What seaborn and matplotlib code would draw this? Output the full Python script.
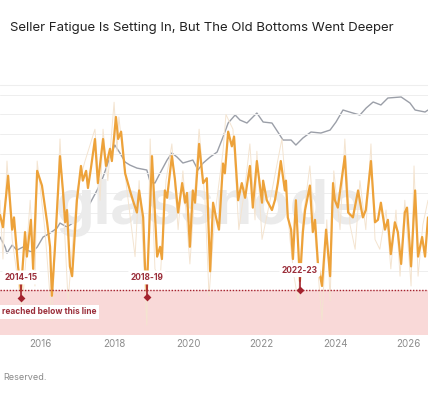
import numpy as np
import pandas as pd
import seaborn as sns
import matplotlib.pyplot as plt
from matplotlib.lines import Line2D

# smoothed oscillator (score 0-100), turning points
osc_t = [2014.89, 2014.97, 2015.11, 2015.22, 2015.27, 2015.38, 2015.46, 2015.57, 2015.62, 2015.73,
         2015.79, 2015.90, 2016.03, 2016.17, 2016.25, 2016.30, 2016.38, 2016.52, 2016.60, 2016.66,
         2016.71, 2016.79, 2016.85, 2016.93, 2016.98, 2017.09, 2017.14, 2017.23, 2017.28, 2017.36,
         2017.47, 2017.55, 2017.69, 2017.77, 2017.88, 2017.93, 2018.04, 2018.10, 2018.18, 2018.29,
         2018.42, 2018.50, 2018.61, 2018.67, 2018.78, 2018.83, 2018.88, 2019.02, 2019.16, 2019.24,
         2019.29, 2019.37, 2019.43, 2019.56, 2019.64, 2019.73, 2019.84, 2019.92, 2019.97, 2020.05,
         2020.13, 2020.19, 2020.30, 2020.41, 2020.51, 2020.60, 2020.68, 2020.76, 2020.84, 2020.95,
         2021.00, 2021.09, 2021.19, 2021.25, 2021.36, 2021.46, 2021.55, 2021.68, 2021.76, 2021.87,
         2022.01, 2022.04, 2022.14, 2022.28, 2022.36, 2022.44, 2022.52, 2022.63, 2022.66, 2022.71,
         2022.80, 2022.85, 2022.93, 2023.04, 2023.12, 2023.18, 2023.31, 2023.39, 2023.45, 2023.53,
         2023.64, 2023.75, 2023.86, 2023.94, 2023.99, 2024.07, 2024.26, 2024.35, 2024.48, 2024.62,
         2024.70, 2024.75, 2024.83, 2024.97, 2025.08, 2025.16, 2025.24, 2025.35, 2025.43, 2025.51,
         2025.62, 2025.70, 2025.79, 2025.89, 2025.95, 2026.06, 2026.17, 2026.25, 2026.36, 2026.44,
         2026.52]
osc_v = [49, 44, 65, 43, 48, 28, 18, 42, 32, 47,
         27, 67, 61, 46, 36, 16, 35, 73, 59, 46,
         51, 28, 24, 43, 55, 69, 63, 67, 60, 68,
         80, 62, 80, 69, 76, 71, 89, 80, 83, 66,
         59, 55, 50, 59, 48, 28, 18, 73, 32, 36,
         31, 59, 56, 73, 64, 50, 62, 54, 58, 36,
         59, 54, 78, 62, 64, 26, 54, 48, 43, 70,
         66, 83, 77, 81, 55, 62, 56, 69, 52, 71,
         54, 63, 55, 51, 55, 62, 71, 59, 63, 48,
         43, 31, 55, 22, 42, 51, 61, 42, 47, 29,
         20, 43, 24, 62, 55, 52, 73, 50, 48, 59,
         52, 48, 51, 71, 46, 47, 54, 43, 47, 33,
         46, 42, 29, 50, 52, 28, 59, 32, 40, 32,
         48]

# raw (unsmoothed) oscillator, faint spikes
raw_t = [2014.89, 2014.97, 2015.08, 2015.22, 2015.49, 2015.71, 2015.84, 2015.90, 2016.11, 2016.30,
         2016.52, 2016.74, 2016.98, 2017.20, 2017.47, 2017.61, 2017.69, 2017.82, 2017.99, 2018.07,
         2018.12, 2018.34, 2018.56, 2018.67, 2018.75, 2018.88, 2018.97, 2019.10, 2019.24, 2019.40,
         2019.56, 2019.73, 2019.86, 2020.05, 2020.30, 2020.46, 2020.57, 2020.73, 2020.95, 2021.03,
         2021.22, 2021.38, 2021.55, 2021.68, 2021.82, 2021.87, 2022.01, 2022.23, 2022.55, 2022.77,
         2022.88, 2022.99, 2023.12, 2023.31, 2023.48, 2023.64, 2023.77, 2023.86, 2023.96, 2024.13,
         2024.26, 2024.40, 2024.54, 2024.67, 2024.83, 2024.97, 2025.08, 2025.21, 2025.38, 2025.51,
         2025.65, 2025.76, 2025.89, 2026.06, 2026.14, 2026.25, 2026.38, 2026.52]
raw_v = [55, 31, 71, 39, 10, 55, 20, 71, 43, 6,
         80, 14, 59, 71, 84, 55, 84, 63, 95, 75,
         89, 59, 32, 63, 43, 4, 80, 27, 22, 63,
         78, 43, 67, 29, 84, 55, 16, 49, 75, 90,
         84, 43, 61, 78, 47, 75, 39, 55, 80, 39,
         24, 14, 47, 69, 35, 6, 47, 14, 67, 43,
         80, 45, 35, 63, 43, 78, 39, 35, 51, 27,
         51, 24, 55, 20, 69, 24, 45, 55]

# BTC price (log axis)
px_t = [2014.89, 2015.03, 2015.08, 2015.22, 2015.35, 2015.51, 2015.62, 2015.76, 2015.90, 2016.06,
        2016.25, 2016.44, 2016.52, 2016.71, 2016.98, 2017.15, 2017.34, 2017.53, 2017.69, 2017.88,
        2018.01, 2018.15, 2018.29, 2018.42, 2018.61, 2018.88, 2018.97, 2019.10, 2019.24, 2019.43,
        2019.56, 2019.70, 2019.86, 2020.13, 2020.27, 2020.41, 2020.60, 2020.79, 2020.95, 2021.09,
        2021.28, 2021.41, 2021.60, 2021.87, 2022.04, 2022.28, 2022.44, 2022.58, 2022.80, 2022.93,
        2023.12, 2023.34, 2023.61, 2023.86, 2024.02, 2024.21, 2024.48, 2024.67, 2024.84, 2025.03,
        2025.24, 2025.43, 2025.79, 2026.03, 2026.17, 2026.44, 2026.52]
px_v = [429, 283, 221, 308, 250, 283, 250, 230, 283, 429,
        506, 624, 767, 650, 868, 1162, 1759, 3015, 5170, 11860,
        19500, 14000, 9630, 8500, 7500, 6920, 4200, 4030, 6100, 10470,
        14000, 11860, 9250, 10470, 6920, 9250, 11860, 14590, 27170, 48570,
        67700, 55000, 48570, 73500, 50640, 48570, 33450, 24000, 24000, 19500,
        26070, 33450, 32080, 36300, 50640, 83300, 73500, 67700, 90500, 116200,
        102600, 137000, 143000, 111400, 83300, 76700, 83300]

bottom_labels = ["2014-15", "2018-19", "2022-23"]
bottom_t = [2015.46, 2018.88, 2023.04]
bottom_v = [15, 15.5, 18.4]
threshold = 18.4
year_ticks = [2016, 2018, 2020, 2022, 2024, 2026]

osc = pd.DataFrame({"t": osc_t, "v": osc_v})
raw = pd.DataFrame({"t": raw_t, "v": raw_v})
price = pd.DataFrame({"t": px_t, "p": px_v})

sns.set_style("white")
plt.rcParams["font.family"] = ["Inter", "DejaVu Sans"]

fig = plt.figure(figsize=(4.28, 4.0), dpi=100)
ax = fig.add_axes([0, 0.1625, 1, 0.6125])
ax2 = ax.twinx()
ax.set_zorder(ax2.get_zorder() + 1)
ax.patch.set_visible(False)

# price on the hidden log axis
sns.lineplot(data=price, x="t", y="p", ax=ax2, color="#9b9fa8", linewidth=1.0, estimator=None)
ax2.set_yscale("log")
ax2.set_ylim(7.4, 191000)
ax2.set_yticks([])
ax2.set_ylabel("")

# background band + gridlines
ax.axhspan(0, threshold, color="#f9d9d8", zorder=0, lw=0)
for g in [26, 34, 42, 50, 58, 66, 74, 82, 90, 98]:
    ax.axhline(g, color="#eeeeee", lw=0.7, zorder=0)
ax.text(2020.6, 52, "glassnode", fontsize=44, color="#ebebeb", ha="center", va="center",
        fontweight="bold", zorder=0.5)

sns.lineplot(data=raw, x="t", y="v", ax=ax, color="#f4e4d0", linewidth=0.7, estimator=None, zorder=1)
sns.lineplot(data=osc, x="t", y="v", ax=ax, color="#eda23a", linewidth=1.6, estimator=None, zorder=3,
             solid_joinstyle="round")
ax.axhline(threshold, color="#a3222e", lw=1.0, ls=(0, (1, 1.2)), zorder=4)

for lab, t, v in zip(bottom_labels, bottom_t, bottom_v):
    top = 23.5 if lab != "2022-23" else 26.5
    ax.plot([t, t], [v, top], color="#a3222e", lw=1.2, zorder=5)
    ax.scatter([t], [v], marker="D", s=16, color="#a3222e", zorder=6, lw=0)
    ax.text(t, top, lab, fontsize=6, fontweight="bold", color="#9b2e3a", ha="center", va="center",
            zorder=7, bbox=dict(boxstyle="round,pad=0.3", fc="white", ec="none"))

ax.text(0.004, 9.4, "reached below this line", transform=ax.get_yaxis_transform(), fontsize=6,
        fontweight="bold", color="#9b2e3a", ha="left", va="center", zorder=7,
        bbox=dict(boxstyle="square,pad=0.3", fc="white", ec="none"))

ax.set_xlim(2014.89, 2026.52)
ax.set_ylim(0, 100)
ax.set_xticks(year_ticks)
ax.set_xticklabels([str(y) for y in year_ticks])
ax.set_yticks([])
ax.set_xlabel("")
ax.set_ylabel("")
ax.tick_params(axis="x", length=0, labelsize=7, labelcolor="#8c8c8c", pad=3)
for a in (ax, ax2):
    for s in a.spines.values():
        s.set_visible(False)

fig.text(0.023, 0.93, "Seller Fatigue Is Setting In, But The Old Bottoms Went Deeper",
         fontsize=9.5, color="#222222", ha="left", va="center")
fig.add_artist(Line2D([0, 1], [0.7875, 0.7875], color="#eeeeee", lw=0.8))
fig.text(0.008, 0.055, "Reserved.", fontsize=6.5, color="#8a8a8a", ha="left", va="center")

fig.savefig("out.png", dpi=100)
